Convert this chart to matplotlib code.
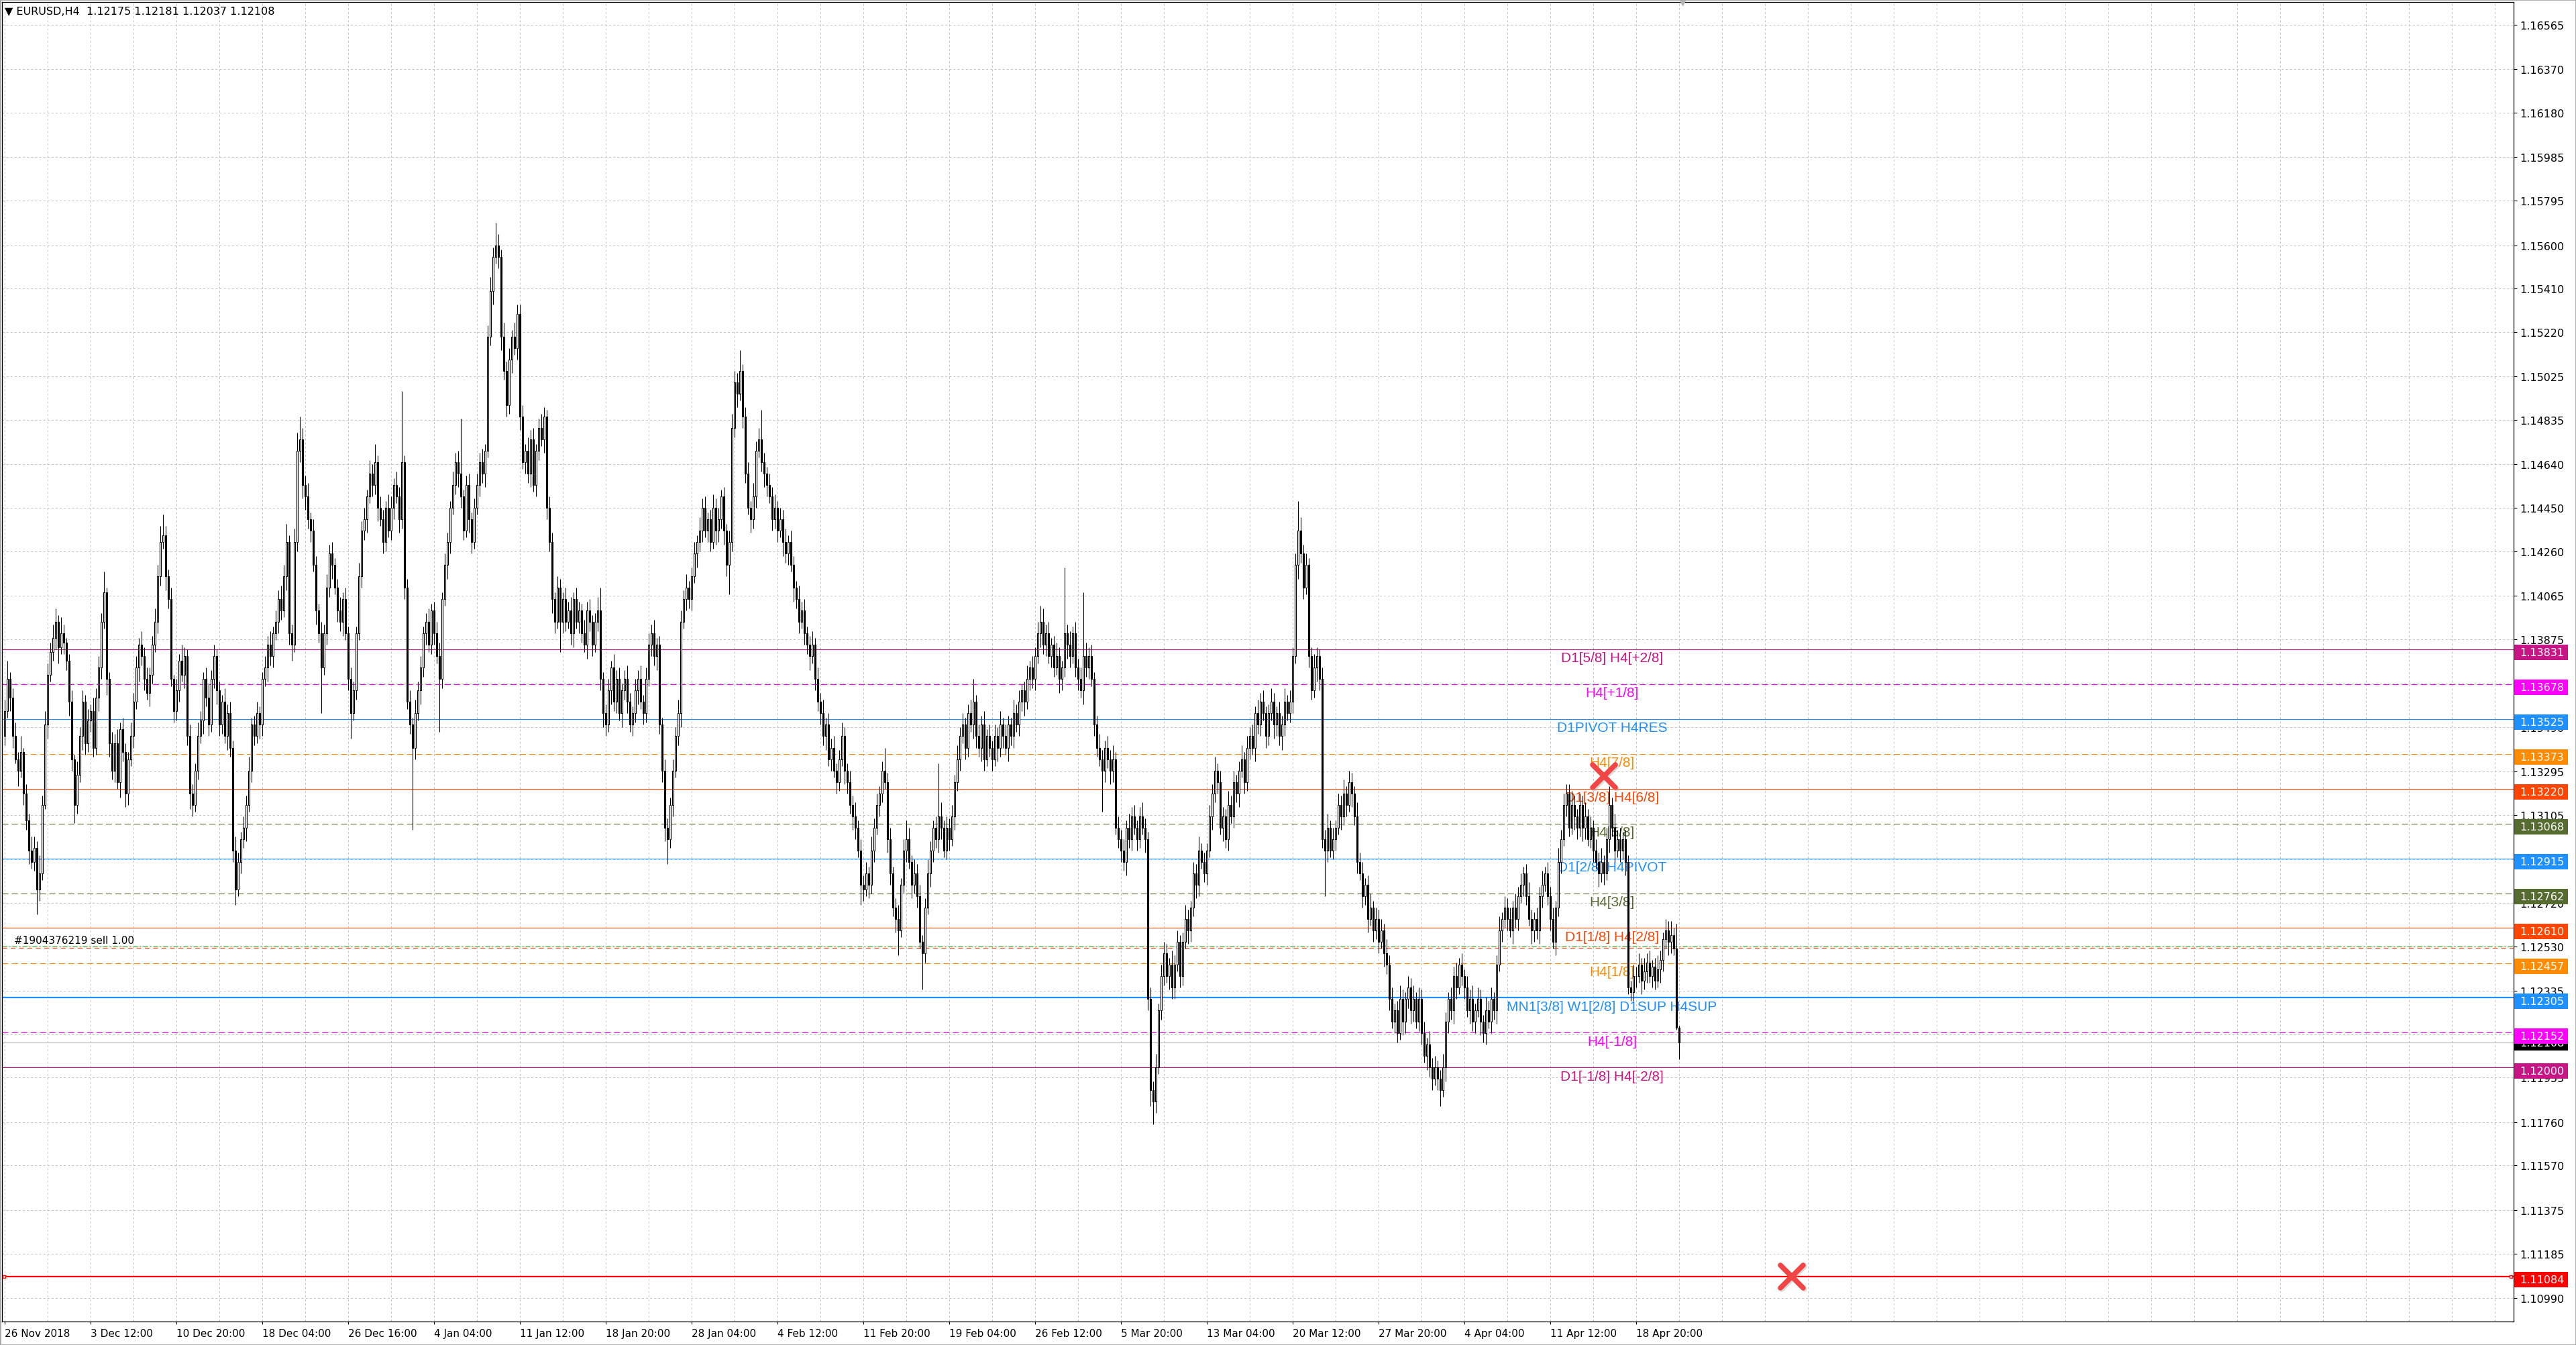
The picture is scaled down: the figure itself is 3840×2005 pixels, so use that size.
import numpy as np
import matplotlib
matplotlib.use('Agg')
import matplotlib.pyplot as plt
from matplotlib.patches import Rectangle
from matplotlib.markers import MarkerStyle

plt.rcParams['lines.scale_dashes'] = False

# ---------------- data ----------------
title_text = "\u25BC EURUSD,H4  1.12175 1.12181 1.12037 1.12108"
last_bar_ohlc = [1.12175, 1.12181, 1.12037, 1.12108]

first_open_pts = 3450   # price = 1.1 + pts / 100000
close_pts = [
    3560,3700,3620,3450,3350,3300,3380,3200,3080,2950,2900,2960,2780,2850,3150,3500,
    3720,3820,3880,3950,3840,3900,3860,3780,3600,3350,3150,3280,3450,3600,3420,3520,
    3560,3400,3620,3750,3950,4080,3700,3420,3300,3420,3250,3480,3380,3200,3350,3450,
    3600,3750,3850,3800,3700,3640,3720,3850,3950,4150,4300,4330,4150,4050,3700,3560,
    3650,3780,3720,3800,3450,3200,3150,3300,3450,3520,3700,3620,3500,3700,3800,3650,
    3500,3600,3450,3550,3400,2950,2780,2900,3000,3050,3150,3300,3500,3450,3550,3500,
    3700,3750,3850,3800,3900,3950,4050,4000,4150,4300,3900,3850,4300,4700,4750,4550,
    4500,4400,4350,4200,4000,3900,3750,3900,4100,4250,4200,4100,4000,3950,4050,3900,
    3700,3550,3650,3900,4150,4350,4400,4500,4600,4550,4650,4450,4400,4300,4450,4350,
    4450,4550,4500,4400,4650,4100,3600,3500,3400,3550,3650,3750,3900,3950,3850,4000,
    3900,3800,3700,4050,4200,4300,4450,4550,4650,4600,4500,4350,4550,4400,4300,4450,
    4550,4650,4600,4700,5200,5400,5550,5600,5550,5200,5050,4900,5100,5200,5150,5300,
    4850,4650,4700,4600,4750,4550,4700,4800,4750,4850,4450,4300,4050,3950,4100,3950,
    4050,3950,4000,3900,4050,3950,4000,3900,3850,4000,3950,3850,3950,4000,3700,3550,
    3500,3650,3750,3600,3700,3550,3650,3700,3600,3500,3550,3650,3700,3600,3550,3700,
    3850,3900,3800,3850,3500,3300,3050,3000,3150,3300,3450,3550,3950,4050,4100,4050,
    4150,4250,4300,4350,4450,4350,4400,4300,4450,4350,4400,4500,4350,4200,4300,4800,
    5000,4950,5050,4850,4600,4450,4400,4500,4700,4750,4650,4600,4550,4500,4400,4450,
    4350,4400,4300,4250,4300,4200,4100,4050,3950,4000,3900,3850,3800,3850,3700,3600,
    3550,3450,3500,3350,3400,3300,3250,3350,3450,3300,3250,3150,3100,3050,2950,2800,
    2780,2850,2800,2950,3050,3150,3200,3300,3250,3000,2850,2700,2650,2600,2800,2950,
    3000,2900,2800,2850,2750,2550,2500,2700,2850,2950,3050,3000,3100,3050,2950,3050,
    3000,3100,3250,3350,3450,3500,3400,3550,3500,3600,3450,3400,3500,3350,3450,3400,
    3350,3450,3400,3500,3450,3400,3500,3450,3550,3500,3600,3650,3600,3700,3750,3700,
    3800,3900,3950,3850,3900,3800,3850,3750,3800,3700,3750,3900,3850,3800,3900,3750,
    3700,3650,3800,3750,3800,3700,3500,3400,3350,3300,3400,3350,3300,3350,3050,3000,
    2950,2900,3050,3000,3100,3050,3000,3100,3050,3000,2300,1900,1850,2000,2250,2400,
    2500,2400,2450,2350,2450,2550,2400,2550,2650,2600,2700,2850,2800,2950,2900,2850,
    2950,3100,3200,3300,3250,3050,3100,3000,3150,3100,3250,3200,3300,3350,3250,3400,
    3450,3400,3550,3500,3600,3550,3450,3550,3600,3500,3550,3450,3500,3600,3550,3600,
    3800,4200,4350,4250,4100,4200,3800,3650,3750,3800,3700,3000,2950,3050,2950,3000,
    3050,3150,3100,3200,3150,3250,3200,3100,2900,2850,2750,2800,2650,2700,2600,2650,
    2550,2600,2500,2450,2300,2200,2250,2150,2300,2200,2300,2350,2250,2300,2200,2300,
    2150,2050,2100,2000,1950,2000,1950,1900,2000,2200,2300,2250,2400,2350,2450,2400,
    2350,2250,2300,2200,2250,2300,2200,2150,2250,2200,2300,2250,2450,2600,2650,2700,
    2650,2600,2700,2650,2750,2800,2850,2750,2650,2600,2650,2600,2750,2800,2850,2750,
    2650,2550,2700,2900,3000,3150,3200,3050,3150,3100,3050,3150,3050,3100,3000,3050,
    2950,2900,2850,2900,2850,3000,3150,3050,2950,3000,2950,3000,2900,2350,2330,2400,
    2400,2450,2380,2420,2460,2400,2440,2380,2430,2470,2560,2600,2550,2580,2520,2175,
    2108,
]
upper_wick_pips = [
    5,8,3,4,6,3,7,2,4,3,6,5,3,8,4,6,
    5,4,6,6,3,7,4,2,3,5,2,6,4,5,3,5,
    3,6,4,5,4,9,2,3,5,4,6,3,5,4,3,6,
    4,5,3,6,4,5,3,4,6,5,7,9,4,3,5,2,
    5,3,7,4,3,5,4,3,6,4,3,5,6,4,5,3,
    4,3,6,4,5,3,6,4,3,5,4,6,3,4,5,3,
    3,5,4,6,3,5,4,6,5,8,3,4,6,8,10,5,
    4,6,3,5,4,3,5,4,6,4,5,3,4,6,3,5,
    3,5,4,3,6,4,5,3,6,4,8,3,5,4,3,6,
    5,3,6,4,31,3,4,5,3,6,4,5,3,4,6,3,
    4,5,6,3,5,4,3,6,4,5,24,3,4,5,3,4,
    5,4,6,3,5,6,4,10,5,3,6,4,5,3,6,4,
    4,5,3,6,4,5,3,4,6,4,3,5,4,3,5,4,
    3,5,4,6,3,5,4,3,6,4,5,3,4,6,10,3,
    4,5,3,6,4,5,3,4,6,4,3,5,4,6,3,5,
    5,4,6,3,4,3,5,4,3,5,4,6,5,4,6,3,
    4,5,3,6,4,5,3,4,6,4,5,3,4,3,5,6,
    5,4,9,3,4,5,3,6,4,5,13,4,3,5,4,6,
    3,5,4,6,3,5,4,3,6,4,5,3,4,6,3,5,
    4,6,3,5,4,5,3,4,6,4,3,5,4,6,3,5,
    4,5,3,6,4,5,3,4,10,4,5,3,4,6,3,5,
    8,5,3,6,4,5,3,4,6,4,3,5,23,6,3,5,
    4,5,3,6,4,5,3,4,6,10,3,5,4,6,3,5,
    3,5,4,6,3,5,4,3,6,4,5,3,4,6,3,5,
    4,5,7,6,4,5,3,4,6,4,3,29,4,6,3,5,
    4,5,28,6,4,5,3,4,6,4,3,5,4,6,3,5,
    4,5,3,6,4,5,3,4,6,4,3,5,4,6,3,5,
    5,4,3,6,4,5,3,4,6,4,3,5,4,6,3,4,
    3,5,4,6,3,5,4,3,6,4,5,3,4,6,3,5,
    4,5,3,6,4,5,3,4,6,4,3,5,4,6,3,5,
    4,5,13,6,4,5,3,4,6,4,3,5,4,6,3,5,
    3,5,4,6,3,5,4,3,6,4,5,3,4,6,3,5,
    4,5,3,6,4,5,3,4,6,4,3,5,4,6,3,5,
    4,5,3,6,4,5,3,4,6,4,3,5,4,6,3,5,
    3,5,4,6,3,5,4,3,6,4,5,3,4,6,3,5,
    4,5,3,6,4,5,3,4,6,4,3,5,4,6,3,5,
    4,5,3,6,4,5,4,4,6,4,3,5,4,6,3,5,
    3,5,4,6,3,5,8,3,6,4,5,3,4,3,3,5,
    4,5,3,6,4,5,3,4,6,4,3,5,4,6,3,11,
    1,
]
lower_wick_pips = [
    4,3,6,5,2,7,3,5,4,6,3,4,11,5,3,2,
    6,3,4,5,7,3,5,4,6,5,8,4,3,6,5,4,
    5,4,3,6,5,3,7,6,4,5,3,7,4,6,5,3,
    5,3,6,4,5,3,6,4,3,5,4,3,6,4,3,5,
    4,5,3,6,4,7,5,3,4,3,6,4,5,3,4,6,
    5,4,3,6,4,5,7,3,5,4,6,3,5,4,3,6,
    5,3,6,4,5,3,5,4,3,6,5,7,3,4,5,6,
    6,4,5,3,6,4,20,3,5,4,6,3,5,4,6,3,
    5,11,3,4,3,5,4,6,3,5,4,6,3,5,4,3,
    4,5,3,6,4,5,3,4,36,5,3,6,4,5,3,4,
    5,3,23,4,3,6,5,3,4,6,5,4,3,6,5,3,
    3,5,4,6,3,4,6,3,5,6,4,5,4,6,3,5,
    6,3,5,4,6,3,5,4,3,6,5,4,6,5,3,13,
    5,4,3,5,6,3,5,4,3,6,4,5,3,4,5,6,
    5,3,6,4,5,3,6,4,5,3,5,4,6,3,5,4,
    3,5,4,6,4,5,6,11,4,5,3,4,6,3,5,4,
    5,3,6,4,5,3,5,4,3,6,5,4,6,5,13,4,
    4,6,3,5,4,3,6,4,5,3,4,6,5,3,5,4,
    5,3,6,4,5,3,6,4,5,3,5,4,6,3,5,4,
    5,4,6,3,5,3,5,4,3,6,5,4,6,5,3,9,
    5,3,6,4,5,3,5,4,3,6,5,4,6,11,3,4,
    5,3,6,4,5,3,16,4,3,6,5,4,6,5,3,4,
    5,3,6,4,5,3,5,4,3,6,5,4,6,5,3,4,
    5,3,6,4,5,3,6,4,5,3,5,4,6,3,5,4,
    5,3,6,4,5,3,5,4,3,6,5,4,6,5,3,4,
    5,3,6,4,5,3,5,4,3,18,5,4,6,5,3,4,
    5,4,6,4,5,3,5,4,3,6,5,7,10,5,3,4,
    4,3,6,5,5,3,5,4,3,6,5,4,6,5,3,4,
    5,3,6,4,5,3,6,4,5,3,5,4,6,3,5,4,
    5,3,6,4,5,3,5,4,3,6,5,4,6,5,3,4,
    5,3,6,4,5,3,5,4,3,6,5,4,20,5,3,4,
    5,3,6,4,5,3,6,4,5,3,5,4,6,3,5,4,
    5,3,6,4,5,3,5,4,3,6,5,4,6,5,3,4,
    5,3,6,4,5,3,5,7,3,6,5,4,6,5,3,4,
    5,3,6,4,5,3,6,4,5,3,5,4,6,3,5,4,
    5,3,6,4,5,3,5,4,3,6,5,4,6,5,3,4,
    5,3,6,4,5,3,5,4,3,6,5,4,6,5,3,4,
    5,3,6,4,5,3,6,4,5,3,5,4,6,3,4,4,
    5,3,6,4,5,3,5,4,3,6,5,4,6,5,3,1,
    7,
]

x_tick_labels = ["26 Nov 2018", "3 Dec 12:00", "10 Dec 20:00", "18 Dec 04:00", "26 Dec 16:00",
                 "4 Jan 04:00", "11 Jan 12:00", "18 Jan 20:00", "28 Jan 04:00", "4 Feb 12:00",
                 "11 Feb 20:00", "19 Feb 04:00", "26 Feb 12:00", "5 Mar 20:00", "13 Mar 04:00",
                 "20 Mar 12:00", "27 Mar 20:00", "4 Apr 04:00", "11 Apr 12:00", "18 Apr 20:00"]
bars_per_label = 32
bars_per_grid = 16

y_tick_values = [1.16565, 1.16370, 1.16180, 1.15985, 1.15795, 1.15600, 1.15410, 1.15220,
                 1.15025, 1.14835, 1.14640, 1.14450, 1.14260, 1.14065, 1.13875, 1.13680,
                 1.13490, 1.13295, 1.13105, 1.12910, 1.12720, 1.12530, 1.12335, 1.12145,
                 1.11955, 1.11760, 1.11570, 1.11375, 1.11185, 1.10990]

level_prices = [1.13831, 1.13678, 1.13525, 1.13373, 1.13220, 1.13068, 1.12915,
                1.12762, 1.12610, 1.12457, 1.12305, 1.12152, 1.12000]
level_labels = ["D1[5/8] H4[+2/8]", "H4[+1/8]", "D1PIVOT H4RES", "H4[7/8]",
                "D1[3/8] H4[6/8]", "H4[5/8]", "D1[2/8] H4PIVOT", "H4[3/8]",
                "D1[1/8] H4[2/8]", "H4[1/8]", "MN1[3/8] W1[2/8] D1SUP H4SUP",
                "H4[-1/8]", "D1[-1/8] H4[-2/8]"]
level_label_bar = 599

bid_price = 1.12108
order_price = 1.12530
order_aux_price = 1.12522
order_text = "#1904376219 sell 1.00"
target_price = 1.11084
closed_marker_bars = [596, 666]
closed_marker_prices = [1.13275, 1.11084]

# ---------------- styles ----------------
level_colors = ['#C71585', '#FF00FF', '#1E90FF', '#FF8C00', '#FF4500', '#556B2F', '#1E90FF',
                '#556B2F', '#FF4500', '#FF8C00', '#1E90FF', '#FF00FF', '#C71585']
level_dashed = [False, True, False, True, False, True, False, True, False, True, False, True, False]
level_lw = [0.8] * 13
level_lw[10] = 1.6

W, H, DPI = 3840, 2006, 100
fig = plt.figure(figsize=(W / DPI, H / DPI), dpi=DPI, facecolor='white')
ax_l, ax_r, ax_t, ax_bpx = 3, 3747, 4, 1971
ax_left = ax_l / W
ax_w = (ax_r - ax_l) / W
ax_b = 1 - ax_bpx / H
ax_h = (ax_bpx - ax_t) / H
ax = fig.add_axes([ax_left, ax_b, ax_w, ax_h])
ymin, ymax = 1.10887, 1.16665
xmin, xmax = -1, 935
ax.set_xlim(xmin, xmax)
ax.set_ylim(ymin, ymax)
ax.set_facecolor('white')

# OHLC
c = 1.1 + np.array(close_pts) / 1e5
o = 1.1 + np.array([first_open_pts] + close_pts[:-1]) / 1e5
hi = np.maximum(o, c) + np.array(upper_wick_pips) / 1e4
lo = np.minimum(o, c) - np.array(lower_wick_pips) / 1e4
o[-1], hi[-1], lo[-1], c[-1] = last_bar_ohlc
n = len(c)
x = np.arange(n)

# grid
gray = '#C4C4C4'
for yv in y_tick_values:
    ax.axhline(yv, color=gray, lw=0.75, dashes=(2.2, 2.2), zorder=1)
for xv in range(0, xmax, bars_per_grid):
    ax.axvline(xv, color=gray, lw=0.75, dashes=(2.2, 2.2), zorder=1)

# levels
for p, lab, col, dsh, lw in zip(level_prices, level_labels, level_colors, level_dashed, level_lw):
    if dsh:
        ax.axhline(p, color=col, lw=lw, dashes=(6.5, 3.6), zorder=2)
    else:
        ax.axhline(p, color=col, lw=lw, zorder=2)
    ax.annotate(lab, xy=(level_label_bar, p), xytext=(0, -13), textcoords='offset pixels',
                ha='center', va='center', fontsize=15, color=col,
                family=['Liberation Sans', 'DejaVu Sans'], zorder=2.5)

ax.axhline(bid_price, color='#C0C0C0', lw=0.9, zorder=2)
ax.axhline(order_price, color='#1E8C1E', lw=0.8, dashes=(5, 2.2, 1.4, 2.2), zorder=2.2)
ax.axhline(order_aux_price, color='#FF4500', lw=0.8, dashes=(5, 4), zorder=2.1)
ax.annotate(order_text, xy=(0, order_price), xytext=(18, 9), textcoords='offset pixels',
            xycoords=('axes fraction', 'data'), ha='left', va='center', fontsize=11,
            color='black', zorder=6)
ax.axhline(target_price, color='#FF0000', lw=1.6, zorder=2)
ax.plot([-0.3, 934], [target_price, target_price], ls='none', marker='s', ms=3.5,
        mfc='white', mec='#FF0000', mew=1.0, zorder=3, clip_on=False)

# candles
ax.vlines(x, lo, hi, color='black', lw=0.8, zorder=3)
bull = c >= o
bottoms = np.minimum(o, c)
heights = np.maximum(np.abs(c - o), 0.000012)
faces = np.where(bull, 'white', 'black')
ax.bar(x, heights, bottom=bottoms, width=0.5, color=faces, edgecolor='black',
       linewidth=0.8, zorder=4)

# closed order markers
mk = MarkerStyle('x', capstyle='round')
ax.plot(np.array(closed_marker_bars) + 0.5, np.array(closed_marker_prices) - 0.00006,
        ls='none', marker=mk, ms=25, mew=5.5, color='#999999', alpha=0.35, zorder=6)
ax.plot(closed_marker_bars, closed_marker_prices, ls='none', marker=mk, ms=25, mew=5.5,
        color='#F24646', zorder=7)

# shift marker
ax.plot([625.25], [ymax], marker='v', ms=7, color='#B4B4B4', clip_on=False, zorder=8)

# axes / ticks
for s in ['left', 'right', 'top', 'bottom']:
    ax.spines[s].set_color('black')
    ax.spines[s].set_linewidth(0.9)
ax.yaxis.tick_right()
ax.set_yticks(y_tick_values)
ax.set_yticklabels([f"{v:.5f}" for v in y_tick_values])
ax.tick_params(axis='y', which='major', length=3.6, width=0.8, pad=2.9, labelsize=11.5,
               colors='black', right=True, left=False)
ax.set_xticks(list(range(0, bars_per_label * len(x_tick_labels), bars_per_label)))
ax.set_xticklabels(x_tick_labels)
ax.tick_params(axis='x', which='major', length=2.9, width=0.8, pad=4.0, labelsize=11,
               colors='black')
for lbl in ax.get_xticklabels():
    lbl.set_ha('left')

# right price boxes
def fig_y(p):
    return ax_b + (p - ymin) / (ymax - ymin) * ax_h

box_prices = [bid_price] + level_prices + [target_price]
box_colors = ['black'] + level_colors + ['#FF0000']
box_shift_px = [0] + [5] * len(level_prices) + [5]
for i, (p, col, sh) in enumerate(zip(box_prices, box_colors, box_shift_px)):
    yc = fig_y(p) - sh / H
    fig.patches.append(Rectangle((3748 / W, yc - 11.5 / H), 80 / W, 23 / H,
                                 transform=fig.transFigure, facecolor=col,
                                 edgecolor='none', zorder=5 + i * 0.01))
    fig.text(3756 / W, yc, f"{p:.5f}", color='white', fontsize=11.5, ha='left',
             va='center', zorder=5.005 + i * 0.01)

# title
fig.text(7 / W, 1 - 18 / H, title_text, fontsize=11.5, color='black', ha='left', va='center',
         family=['DejaVu Sans'])

# outer border
fig.patches.append(Rectangle((0, 0), 1, 1, transform=fig.transFigure, fill=False,
                             edgecolor='#A8A8A8', linewidth=2.0, zorder=10))

fig.savefig('out.png', dpi=DPI, facecolor='white')
